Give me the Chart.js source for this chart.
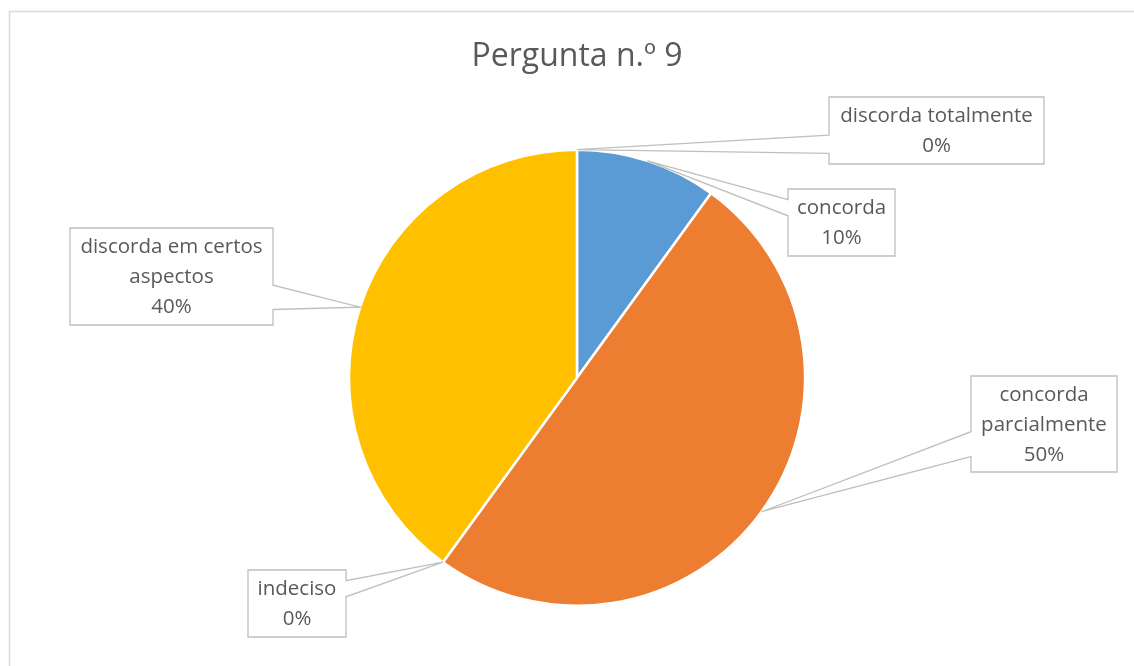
<!DOCTYPE html>
<html>
<head>
<meta charset="utf-8">
<script src="https://cdn.jsdelivr.net/npm/chart.js@4"></script>
<style>
  html, body { margin: 0; padding: 0; background: #fff; }
  #wrap { width: 1134px; height: 666px; position: relative; }
</style>
</head>
<body>
<div id="wrap"><canvas id="chartPie"></canvas></div>
<script>
// dados da pergunta 9
const categorias = ["concorda", "concorda parcialmente", "indeciso", "discorda em certos aspectos", "discorda totalmente"];
const valores = [10, 50, 0, 40, 0];
const cores = ["#5B9BD5", "#ED7D31", "#A5A5A5", "#FFC000", "#4472C4"];
const rotulos = ["10%", "50%", "0%", "40%", "0%"];

// caixas dos rótulos: posição, tamanho, quebra de linha e base da seta (fração da altura)
const caixas = [
  { x: 788, y: 189, w: 107, h: 67, linhas: ["concorda"], lado: "left", base: [0.16, 0.40] },
  { x: 971, y: 376, w: 146, h: 96, linhas: ["concorda", "parcialmente"], lado: "left", base: [0.58, 0.84] },
  { x: 248, y: 570, w: 98, h: 67, linhas: ["indeciso"], lado: "right", base: [0.16, 0.40] },
  { x: 70, y: 228, w: 203, h: 97, linhas: ["discorda em certos", "aspectos"], lado: "right", base: [0.59, 0.84] },
  { x: 829, y: 97, w: 215, h: 67, linhas: ["discorda totalmente"], lado: "left", base: [0.57, 0.84] }
];

const FONTE = "'Open Sans', sans-serif";

const moldura = {
  id: "moldura",
  beforeDraw(chart) {
    const c = chart.ctx;
    c.save();
    c.fillStyle = "#fff";
    c.fillRect(0, 0, chart.width, chart.height);
    c.strokeStyle = "#d9d9d9";
    c.lineWidth = 1.5;
    c.beginPath();
    c.moveTo(9.5, chart.height);
    c.lineTo(9.5, 11.5);
    c.lineTo(chart.width, 11.5);
    c.stroke();
    c.restore();
  }
};

const chamadas = {
  id: "chamadas",
  afterDatasetsDraw(chart) {
    const c = chart.ctx;
    const arcos = chart.getDatasetMeta(0).data;
    c.save();
    arcos.forEach((arc, i) => {
      const p = arc.getProps(["x", "y", "startAngle", "endAngle", "outerRadius"], true);
      const meio = (p.startAngle + p.endAngle) / 2;
      const ax = p.x + Math.cos(meio) * p.outerRadius;
      const ay = p.y + Math.sin(meio) * p.outerRadius;
      const b = caixas[i];
      const bx = b.lado === "left" ? b.x : b.x + b.w;
      const y1 = b.y + b.h * b.base[0];
      const y2 = b.y + b.h * b.base[1];
      c.fillStyle = "#fff";
      c.strokeStyle = "#bfbfbf";
      c.lineWidth = 1.3;
      c.beginPath();
      c.moveTo(b.x, b.y);
      c.lineTo(b.x + b.w, b.y);
      if (b.lado === "right") {
        c.lineTo(bx, y1);
        c.lineTo(ax, ay);
        c.lineTo(bx, y2);
      }
      c.lineTo(b.x + b.w, b.y + b.h);
      c.lineTo(b.x, b.y + b.h);
      if (b.lado === "left") {
        c.lineTo(bx, y2);
        c.lineTo(ax, ay);
        c.lineTo(bx, y1);
      }
      c.closePath();
      c.fill();
      c.stroke();

      const linhas = b.linhas.concat([rotulos[i]]);
      c.fillStyle = "#595959";
      c.font = "20.5px " + FONTE;
      c.textAlign = "center";
      c.textBaseline = "middle";
      const lh = 30;
      const y0 = b.y + b.h / 2 - (linhas.length - 1) * lh / 2 + 1;
      linhas.forEach((t, k) => c.fillText(t, b.x + b.w / 2, y0 + k * lh));
    });
    c.restore();
  }
};

new Chart(document.getElementById("chartPie"), {
  type: "pie",
  data: {
    labels: categorias,
    datasets: [{
      data: valores,
      backgroundColor: cores,
      borderColor: "#fff",
      borderWidth: 2.5
    }]
  },
  options: {
    responsive: true,
    maintainAspectRatio: false,
    animation: false,
    layout: { padding: { top: 0, bottom: 59, left: 20, right: 0 } },
    plugins: {
      legend: { display: false },
      tooltip: { enabled: false },
      title: {
        display: true,
        text: "Pergunta n.º 9",
        color: "#595959",
        font: { family: FONTE, size: 32, weight: "normal" },
        padding: { top: 38, bottom: 72 }
      }
    }
  },
  plugins: [moldura, chamadas]
});
</script>
</body>
</html>
